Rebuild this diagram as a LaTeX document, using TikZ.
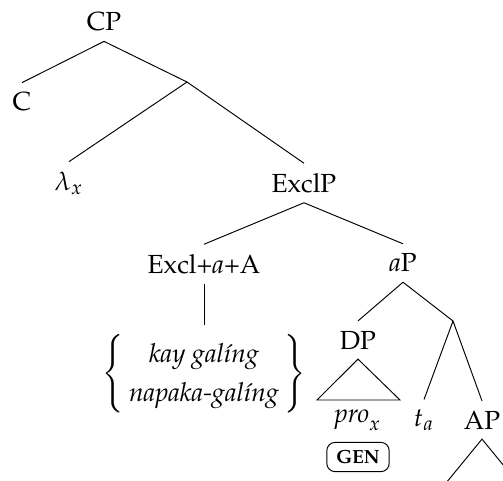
\documentclass[tikz,border=0pt]{standalone}
\usepackage[T1]{fontenc}
\usepackage{mathpazo}
\usepackage{amsmath}
\usetikzlibrary{calc}

\begin{document}
\begin{tikzpicture}[
    x=0.42pt, y=-0.42pt,
    lbl/.style={inner sep=4pt, font=\fontsize{11}{13.6}\selectfont},
    gen/.style={draw, rounded corners=3.5pt, inner xsep=4pt, inner ysep=3.3pt,
        font=\footnotesize\bfseries}
]
\useasboundingbox (0,0) rectangle (503,480);

\node[lbl] (cp) at (104,22) {CP};
\node[lbl] (c) at (22,102) {C};
\coordinate (cbar) at (187,82);
\node[lbl] (lam) at (69,183) {$\lambda_x$};
\node[lbl] (exclp) at (304,183) {ExclP};
\node[lbl] (excl) at (204,264) {Excl+\textit{a}+A};
\node[lbl] (ap) at (403,263) {\textit{a}P};
\node[lbl] (forms) at (204,374) {\def\arraystretch{1.22}\setlength{\arraycolsep}{2pt}%
    $\left\{\begin{array}{c}
    \textit{kay gal\'{\i}ng}\\
    \textit{napaka-gal\'{\i}ng}
    \end{array}\right\}$};
\node[lbl] (dp) at (358,340) {DP};
\coordinate (dpl) at (317,400);
\coordinate (dpr) at (400,400);
\node[lbl] (pro) at (358,420) {$\mathit{pro}_x$};
\node[gen] (case) at (358,457) {GEN};
\coordinate (abar) at (453,321);
\node[lbl] (ta) at (424,420) {$t_a$};
\node[lbl] (adjp) at (482,420) {AP};
\coordinate (apl) at (446,483);
\coordinate (apr) at (518,483);

% branches
\draw (cp.south) -- (c.north);
\draw (cp.south) -- (cbar);
\draw (cbar) -- (lam.north);
\draw (cbar) -- (exclp.north);
\draw (exclp.south) -- (excl.north);
\draw (exclp.south) -- (ap.north);
\draw (excl.south) -- (forms.north);
\draw (ap.south) -- (dp.north);
\draw (ap.south) -- (abar);
\draw (abar) -- (ta.north);
\draw (abar) -- (adjp.north);

% triangles
\draw (dp.south) -- (dpl) -- (dpr) -- cycle;
\draw (apl) -- (adjp.south) -- (apr);

\end{tikzpicture}
\end{document}
